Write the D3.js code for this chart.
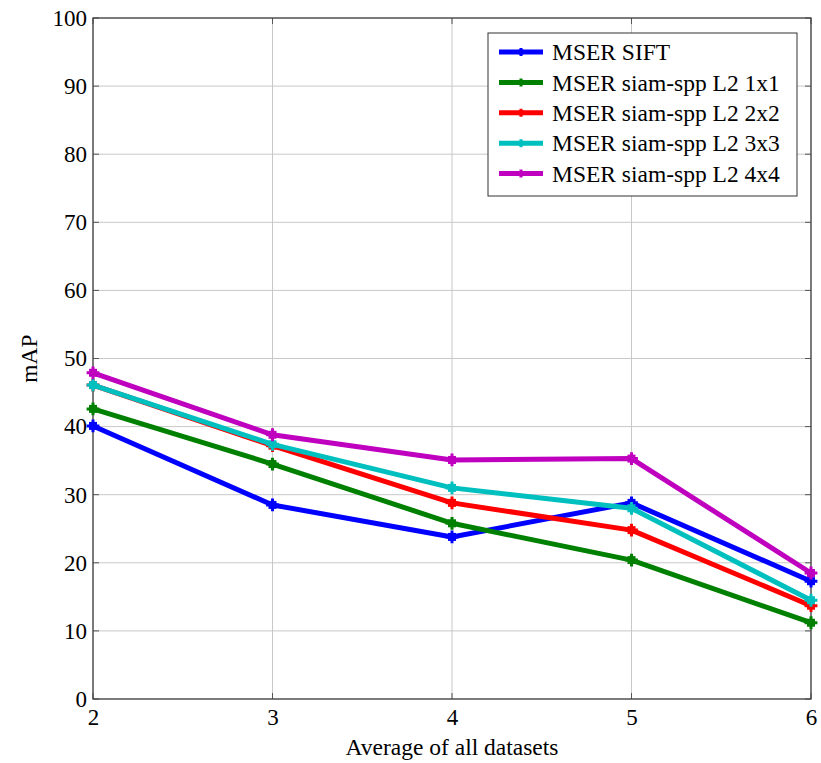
<!DOCTYPE html>
<html>
<head>
<meta charset="utf-8">
<script src="https://cdn.jsdelivr.net/npm/d3@7"></script>
<style>
  html, body { margin: 0; padding: 0; background: #fff; }
  svg text { font-family: "Liberation Serif", "DejaVu Serif", serif; fill: #000; }
</style>
</head>
<body>
<svg id="chart" width="821" height="763"></svg>
<script>
// Window sizes along the x axis
const xValues = [2, 3, 4, 5, 6];

// mAP for each descriptor
const seriesNames = [
  "MSER SIFT",
  "MSER siam-spp L2 1x1",
  "MSER siam-spp L2 2x2",
  "MSER siam-spp L2 3x3",
  "MSER siam-spp L2 4x4"
];
const siftValues  = [40.1, 28.5, 23.8, 28.8, 17.3];
const spp1Values  = [42.6, 34.5, 25.8, 20.4, 11.2];
const spp2Values  = [46.1, 37.2, 28.8, 24.8, 13.7];
const spp3Values  = [46.1, 37.4, 31.0, 28.0, 14.5];
const spp4Values  = [47.9, 38.8, 35.1, 35.3, 18.5];
const seriesColors = ["#0000ff", "#008000", "#ff0000", "#00bfbf", "#bf00bf"];

const xTicks = [2, 3, 4, 5, 6];
const yTicks = [0, 10, 20, 30, 40, 50, 60, 70, 80, 90, 100];

const series = seriesNames.map((name, i) => ({
  name,
  color: seriesColors[i],
  values: [siftValues, spp1Values, spp2Values, spp3Values, spp4Values][i]
}));

const svg = d3.select("#chart");
const plotL = 93, plotR = 811, plotT = 18, plotB = 699;
const serif = '"Liberation Serif", "DejaVu Serif", serif';
const fontSize = 23;

const x = d3.scaleLinear().domain([2, 6]).range([plotL, plotR]);
const y = d3.scaleLinear().domain([0, 100]).range([plotB, plotT]);

// Grid
const grid = svg.append("g");
grid.selectAll(".gx").data(xTicks).join("line")
  .attr("x1", d => x(d)).attr("x2", d => x(d))
  .attr("y1", plotT).attr("y2", plotB)
  .attr("stroke", "#c8c8c8").attr("stroke-width", 1);
grid.selectAll(".gy").data(yTicks).join("line")
  .attr("x1", plotL).attr("x2", plotR)
  .attr("y1", d => y(d)).attr("y2", d => y(d))
  .attr("stroke", "#c8c8c8").attr("stroke-width", 1);

// Axes: labels from d3 axes, inward ticks drawn on all four sides
const axB = svg.append("g").attr("transform", `translate(0,${plotB})`)
  .call(d3.axisBottom(x).tickValues(xTicks).tickFormat(d3.format("d")).tickSize(0).tickPadding(8));
const axL = svg.append("g").attr("transform", `translate(${plotL},0)`)
  .call(d3.axisLeft(y).tickValues(yTicks).tickFormat(d3.format("d")).tickSize(0).tickPadding(6));
[axB, axL].forEach(a => {
  a.attr("font-family", serif).attr("font-size", fontSize);
  a.select(".domain").remove();
  a.selectAll("text").attr("fill", "#000");
});
axB.selectAll("text").attr("dy", "0.8em");

const tickG = svg.append("g").attr("stroke", "#555").attr("stroke-width", 1);
xTicks.forEach(t => {
  tickG.append("line").attr("x1", x(t)).attr("x2", x(t)).attr("y1", plotB).attr("y2", plotB - 6);
  tickG.append("line").attr("x1", x(t)).attr("x2", x(t)).attr("y1", plotT).attr("y2", plotT + 6);
});
yTicks.forEach(t => {
  tickG.append("line").attr("x1", plotL).attr("x2", plotL + 6).attr("y1", y(t)).attr("y2", y(t));
  tickG.append("line").attr("x1", plotR).attr("x2", plotR - 6).attr("y1", y(t)).attr("y2", y(t));
});

// Frame
svg.append("rect").attr("x", plotL).attr("y", plotT)
  .attr("width", plotR - plotL).attr("height", plotB - plotT)
  .attr("fill", "none").attr("stroke", "#444").attr("stroke-width", 1.3);

// Axis titles
svg.append("text").attr("x", (plotL + plotR) / 2).attr("y", 755)
  .attr("text-anchor", "middle").attr("font-family", serif).attr("font-size", 23.5)
  .text("Average of all datasets");
svg.append("text").attr("transform", `translate(37,${(plotT + plotB) / 2}) rotate(-90)`)
  .attr("text-anchor", "middle").attr("font-family", serif).attr("font-size", 23.5)
  .text("mAP");

// Marker: thick plus over a small square
function marker(g, cx, cy, color, s) {
  g.append("rect").attr("x", cx - s / 2).attr("y", cy - s / 2).attr("width", s).attr("height", s).attr("fill", color);
  g.append("path").attr("d", `M${cx - s * 0.8},${cy}H${cx + s * 0.8}M${cx},${cy - s * 0.8}V${cy + s * 0.8}`)
    .attr("stroke", color).attr("stroke-width", 3);
}

// Lines
const line = d3.line().x((d, i) => x(xValues[i])).y(d => y(d));
const plot = svg.append("g");
series.forEach(s => {
  const g = plot.append("g");
  g.append("path").datum(s.values).attr("d", line)
    .attr("fill", "none").attr("stroke", s.color).attr("stroke-width", 5)
    .attr("stroke-linejoin", "round");
  s.values.forEach((v, i) => marker(g, x(xValues[i]), y(v), s.color, 8));
});

// Legend
const lg = svg.append("g");
lg.append("rect").attr("x", 488).attr("y", 33).attr("width", 309).attr("height", 163)
  .attr("fill", "#fff").attr("stroke", "#333").attr("stroke-width", 1);
series.forEach((s, i) => {
  const cy = 52 + i * 30.4;
  lg.append("line").attr("x1", 499).attr("x2", 543).attr("y1", cy).attr("y2", cy)
    .attr("stroke", s.color).attr("stroke-width", 5);
  marker(lg, 521, cy, s.color, 5);
  lg.append("text").attr("x", 552).attr("y", cy).attr("dy", "0.35em")
    .attr("font-family", serif).attr("font-size", 23.5).text(s.name);
});
</script>
</body>
</html>
